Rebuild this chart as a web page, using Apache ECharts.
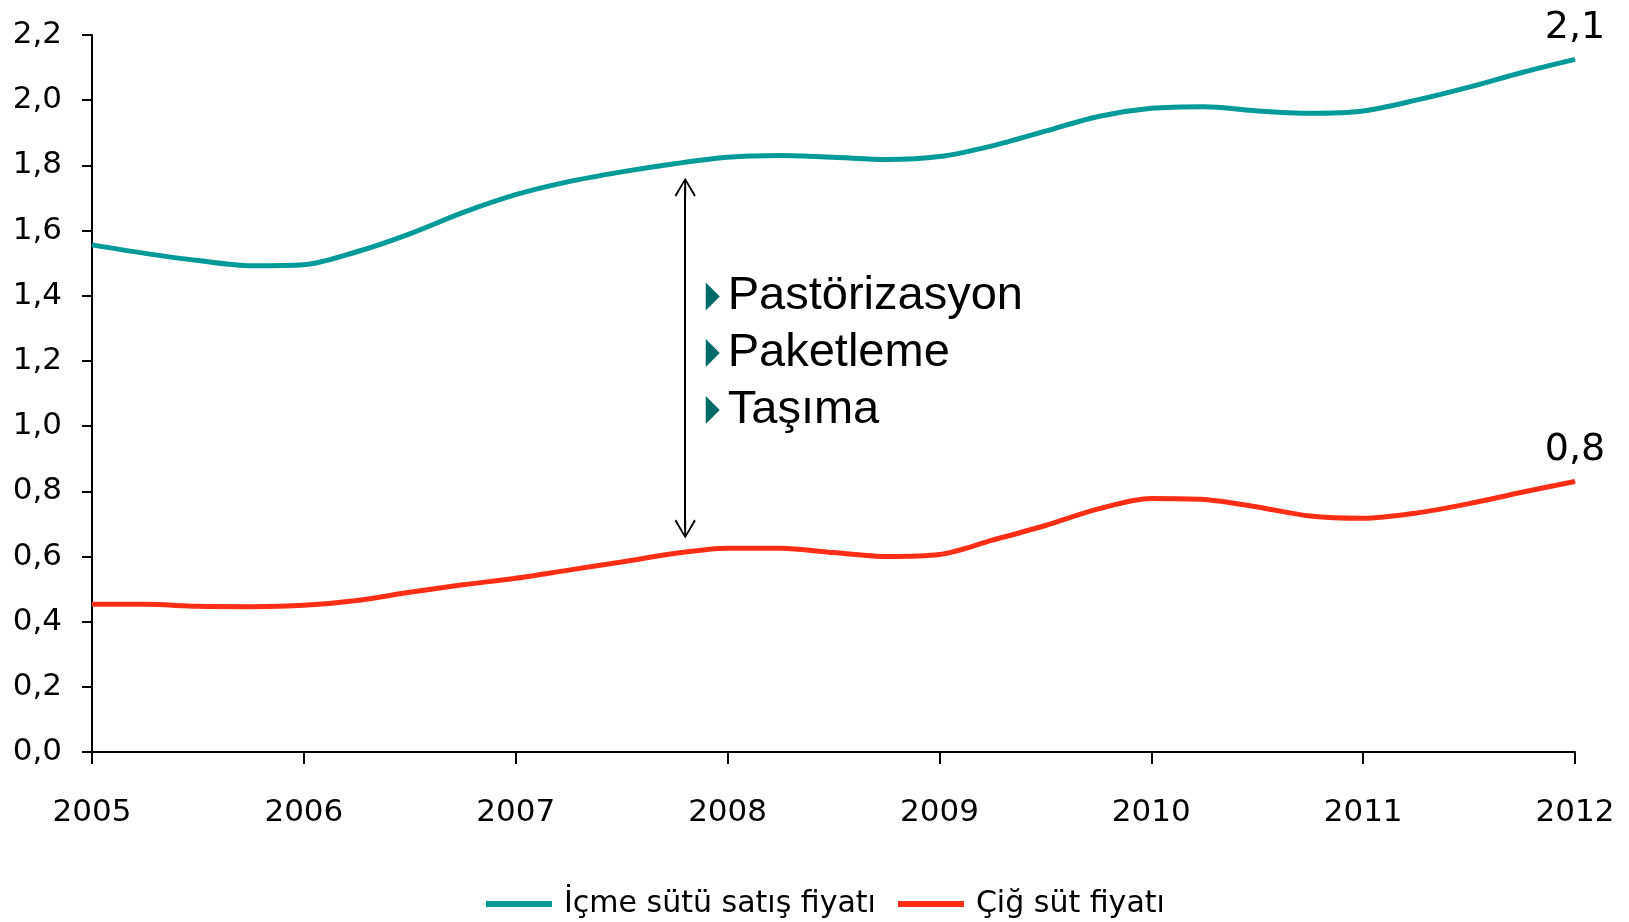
<!DOCTYPE html>
<html>
<head>
<meta charset="utf-8">
<script src="https://cdn.jsdelivr.net/npm/echarts@6/dist/echarts.min.js"></script>
<style>
  html, body { margin: 0; padding: 0; background: #fff; }
  #chart { width: 1629px; height: 922px; }
</style>
</head>
<body>
<div id="chart"></div>
<script>
// quarterly points, 2005 - 2012
var quarters = [2005, 2005.25, 2005.5, 2005.75, 2006, 2006.25, 2006.5, 2006.75,
    2007, 2007.25, 2007.5, 2007.75, 2008, 2008.25, 2008.5, 2008.75,
    2009, 2009.25, 2009.5, 2009.75, 2010, 2010.25, 2010.5, 2010.75,
    2011, 2011.25, 2011.5, 2011.75, 2012];
var icmeSutu = [1.556, 1.53, 1.508, 1.492, 1.495, 1.535, 1.59, 1.655,
    1.71, 1.75, 1.78, 1.805, 1.825, 1.83, 1.825, 1.818,
    1.827, 1.86, 1.905, 1.95, 1.975, 1.98, 1.967, 1.96,
    1.967, 2.0, 2.04, 2.085, 2.125];
var cigSut = [0.453, 0.453, 0.447, 0.446, 0.45, 0.465, 0.49, 0.513,
    0.533, 0.558, 0.583, 0.609, 0.625, 0.625, 0.612, 0.6,
    0.606, 0.65, 0.695, 0.746, 0.778, 0.775, 0.752, 0.724,
    0.717, 0.733, 0.762, 0.797, 0.83];
var seriesNames = ['İçme sütü satış fiyatı', 'Çiğ süt fiyatı'];
var notes = ['Pastörizasyon', 'Paketleme', 'Taşıma'];
var noteLevels = [1.398, 1.224, 1.049];
var noteYear = 2007.93;
var arrowYear = 2007.8;
var arrowRange = [1.733, 0.684];

var FONT = 'DejaVu Sans';
var fmt = function (v) { return v.toFixed(1).replace('.', ','); };

// chevron with a bit of stem, tip at top
var chevron = 'path://M10,0 L20,17 L18.6,18.4 L10.9,4.6 L10.9,18.4 L9.1,18.4 L9.1,4.6 L1.4,18.4 L0,17 Z';

var buildData = function (values) {
    return quarters.map(function (q, i) {
        var item = { value: [q, values[i]] };
        if (i === quarters.length - 1) {
            item.label = {
                show: true,
                position: 'top',
                distance: 12,
                formatter: function (p) { return fmt(p.value[1]); },
                fontFamily: FONT,
                fontSize: 38,
                color: '#000'
            };
        }
        return item;
    });
};

var chart = echarts.init(document.getElementById('chart'));
var option = {
    animation: false,
    backgroundColor: '#fff',
    grid: { left: 92, right: 54, top: 35, bottom: 170 },
    legend: {
        top: 884,
        left: 481,
        icon: 'rect',
        itemWidth: 66,
        itemHeight: 6,
        itemGap: 22,
        textStyle: { fontFamily: FONT, fontSize: 30, color: '#000', padding: [0, 0, 0, 7] },
        data: seriesNames
    },
    xAxis: {
        type: 'value',
        min: 2005,
        max: 2012,
        interval: 1,
        axisLine: { lineStyle: { color: '#000', width: 2 } },
        axisTick: { show: true, length: 12, lineStyle: { color: '#000', width: 2 } },
        axisLabel: {
            margin: 45, fontFamily: FONT, fontSize: 31, color: '#000',
            formatter: function (v) { return String(v); }
        },
        splitLine: { show: false }
    },
    yAxis: {
        type: 'value',
        min: 0,
        max: 2.2,
        interval: 0.2,
        axisLine: { show: true, lineStyle: { color: '#000', width: 2 } },
        axisTick: { show: true, length: 10, lineStyle: { color: '#000', width: 2 } },
        axisLabel: { margin: 30, fontFamily: FONT, fontSize: 31, color: '#000', formatter: fmt },
        splitLine: { show: false }
    },
    series: [{
        name: seriesNames[0],
        type: 'line',
        smooth: 0.3,
        symbol: 'circle',
        symbolSize: 1,
        showAllSymbol: true,
        color: '#009b98',
        lineStyle: { width: 5, color: '#009b98' },
        data: buildData(icmeSutu)
    }, {
        name: seriesNames[1],
        type: 'line',
        smooth: 0.3,
        symbol: 'circle',
        symbolSize: 1,
        showAllSymbol: true,
        color: '#ff2e14',
        lineStyle: { width: 5, color: '#ff2e14' },
        data: buildData(cigSut),
        markLine: {
            silent: true,
            symbol: [chevron, chevron],
            symbolSize: [21, 19],
            lineStyle: { color: '#000', width: 2, type: 'solid' },
            itemStyle: { color: '#000' },
            label: { show: false },
            data: [[{ coord: [arrowYear, arrowRange[0]] }, { coord: [arrowYear, arrowRange[1]] }]]
        },
        markPoint: {
            silent: true,
            symbol: 'triangle',
            symbolSize: [28, 14],
            symbolRotate: -90,
            itemStyle: { color: '#006a66' },
            label: {
                show: true,
                position: 'right',
                distance: 8,
                fontFamily: 'Liberation Sans',
                fontSize: 47,
                color: '#000'
            },
            data: notes.map(function (n, i) {
                return { coord: [noteYear, noteLevels[i]], value: n,
                    label: { formatter: n } };
            })
        }
    }]
};
chart.setOption(option);
</script>
</body>
</html>
